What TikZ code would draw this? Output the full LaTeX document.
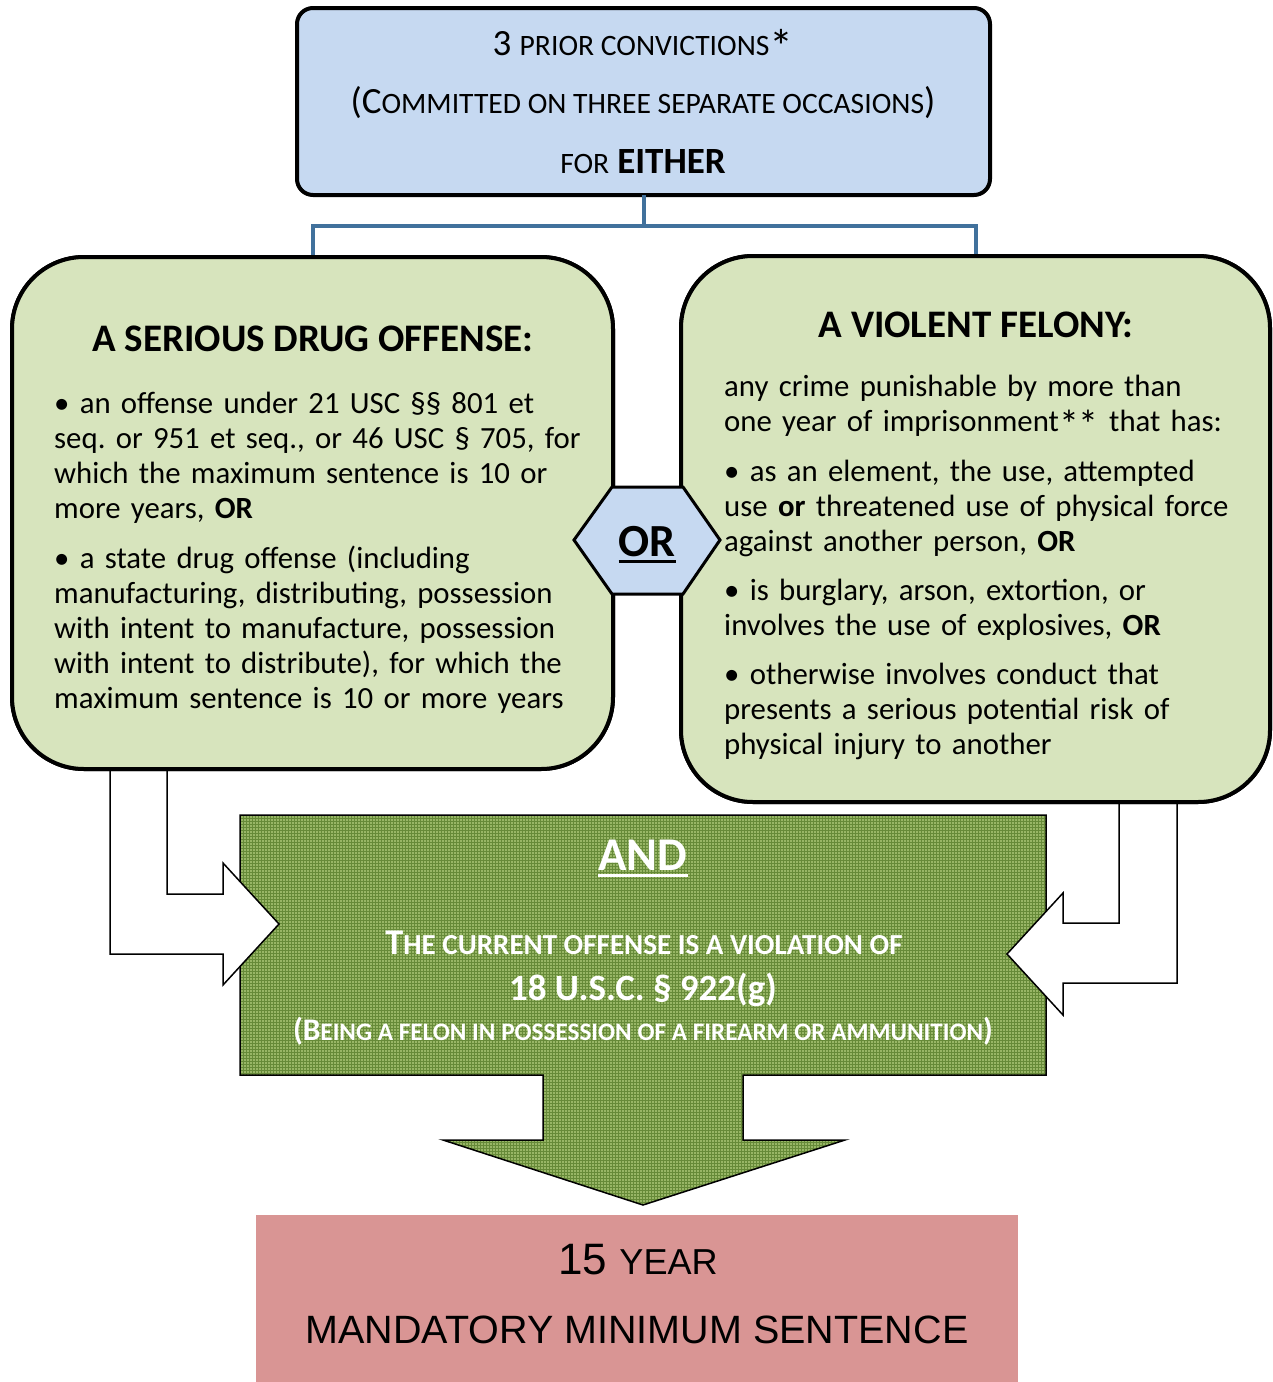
\documentclass[tikz,border=0pt]{standalone}
\usepackage{fontspec}
\setmainfont{Carlito}
\newfontfamily\resfont{Liberation Sans}
\usetikzlibrary{patterns}
\definecolor{priorblue}{HTML}{C6D9F1}
\definecolor{boxgreen}{HTML}{D7E4BD}
\definecolor{connblue}{HTML}{41719C}
\definecolor{olivefill}{HTML}{98B666}
\definecolor{olivegrid}{HTML}{668A38}
\definecolor{respink}{HTML}{D99594}
\newsavebox\ulbox
\newcommand\thul[2][8pt]{\sbox\ulbox{#2}\rlap{\rule[-#1]{\wd\ulbox}{3.5pt}}\usebox\ulbox}
\newcommand\smc[2][0.8]{\scalebox{#1}{#2}}
\newcommand\bigast{\raisebox{-0.24em}{\scalebox{1.3}{*}}}
\frenchspacing
\begin{document}
\begin{tikzpicture}[x=1pt,y=-1pt,
  priorbox/.style={draw=black, line width=4pt, fill=priorblue, rounded corners=16pt,
    minimum width=693pt, minimum height=187pt, inner sep=0pt, outer sep=0pt},
  greenbox/.style={draw=black, line width=4pt, fill=boxgreen, rounded corners=72pt,
    inner sep=0pt, outer sep=0pt},
  conn/.style={draw=connblue, line width=4pt},
  warrow/.style={draw=black, line width=1.5pt, fill=white, line join=miter},
  gshape/.style={draw=black, line width=1.5pt, preaction={fill=olivefill},
    pattern=grid, pattern color=olivegrid},
  hexshape/.style={draw=black, line width=3pt, fill=priorblue, line join=miter},
  toptext/.style={anchor=base, inner sep=0pt, font=\fontsize{37pt}{44pt}\selectfont},
  headtext/.style={anchor=base, inner sep=0pt, font=\bfseries\fontsize{39pt}{46pt}\selectfont},
  bodytext/.style={anchor=base west, inner sep=0pt, text width=560pt, align=left,
    font=\fontsize{30.8pt}{35pt}\selectfont},
  whitetext/.style={anchor=base, inner sep=0pt, text=white},
  restext/.style={anchor=base, inner sep=0pt}
]
\useasboundingbox (0,0) rectangle (1273,1382);

% central green block arrow
\filldraw[gshape] (240,815) -- (1046,815) -- (1046,1075) -- (743,1075) -- (743,1140)
  -- (845,1140) -- (643,1205) -- (443,1140) -- (543,1140) -- (543,1075) -- (240,1075) -- cycle;

% white bent arrows
\filldraw[warrow] (110,760) -- (110,954) -- (223,954) -- (223,985) -- (279,924)
  -- (223,863) -- (223,894) -- (167,894) -- (167,760);
\filldraw[warrow] (1119,790) -- (1119,923) -- (1063,923) -- (1063,893) -- (1007,954)
  -- (1063,1015) -- (1063,983) -- (1177,983) -- (1177,790);

% boxes
\node[priorbox] (prior) at (643.5,101.5) {};
\node[greenbox, minimum width=601pt, minimum height=512pt] (lbox) at (312.5,513) {};
\node[greenbox, minimum width=589pt, minimum height=546pt] (rbox) at (975.5,529) {};

% connectors
\draw[conn] (prior.south) -- ++(0,31) coordinate (fork);
\draw[conn, line join=miter] (lbox.north) |- (fork) -| (rbox.north);
\node[greenbox, minimum width=601pt, minimum height=512pt] (lboxtop) at (lbox.center) {};
\node[greenbox, minimum width=589pt, minimum height=546pt] (rboxtop) at (rbox.center) {};

% OR hexagon
\filldraw[hexshape] (574,540) -- (612,487) -- (683,487) -- (720,540) -- (683,594) -- (612,594) -- cycle;
\node[anchor=base, inner sep=0pt, font=\bfseries\fontsize{46pt}{50pt}\selectfont] (ornode) at (647,556) {\thul[7pt]{OR}};

% top texts
\node[toptext] (t1) at (643,55) {3 \smc{PRIOR CONVICTIONS}\bigast};
\node[toptext] (t2) at (643,113) {(C\smc{OMMITTED ON THREE SEPARATE OCCASIONS})};
\node[toptext] (t3) at (643,173) {\smc{FOR}\hspace{8pt}\textbf{EITHER}};

% left box texts
\node[headtext] (lhead) at (313,351) {A SERIOUS DRUG OFFENSE:};
\node[bodytext] (lbody) at (54,413) {%
• an offense under 21 USC §§ 801 et\\
seq. or 951 et seq., or 46 USC § 705, for\\
which the maximum sentence is 10 or\\
more years, \textbf{OR}\\[15pt]
• a state drug offense (including\\
manufacturing, distributing, possession\\
with intent to manufacture, possession\\
with intent to distribute), for which the\\
maximum sentence is 10 or more years};

% right box texts
\node[headtext] (rhead) at (976,337.5) {A VIOLENT FELONY:};
\node[bodytext] (rbody) at (724,396) {%
any crime punishable by more than\\
one year of imprisonment\bigast\bigast{} that has:\\[15pt]
• as an element, the use, attempted\\
use \textbf{or} threatened use of physical force\\
against another person, \textbf{OR}\\[14pt]
• is burglary, arson, extortion, or\\
involves the use of explosives, \textbf{OR}\\[14pt]
• otherwise involves conduct that\\
presents a serious potential risk of\\
physical injury to another};

% green block texts
\node[whitetext, font=\bfseries\fontsize{47pt}{50pt}\selectfont] (andnode) at (643,870) {\thul[7pt]{AND}};
\node[whitetext, font=\bfseries\fontsize{36.3pt}{40pt}\selectfont] (g1) at (644,954) {T\smc{HE CURRENT OFFENSE IS A VIOLATION OF}};
\node[whitetext, font=\bfseries\fontsize{37pt}{40pt}\selectfont] (g2) at (643,1000) {18 U.S.C. § 922(g)};
\node[whitetext, font=\bfseries\fontsize{31.5pt}{36pt}\selectfont] (g3) at (643,1040) {(B\smc{EING A FELON IN POSSESSION OF A FIREARM OR AMMUNITION})};

% result box
\node[fill=respink, minimum width=762pt, minimum height=175pt, inner sep=0pt, outer sep=0pt] (result) at (637,1302.5) {};
\node[restext, font=\resfont\fontsize{44pt}{48pt}\selectfont] (r1) at (638,1274) {15 \smc[0.82]{YEAR}};
\node[restext, font=\resfont\fontsize{39.5pt}{46pt}\selectfont] (r2) at (637,1343) {MANDATORY MINIMUM SENTENCE};
\end{tikzpicture}
\end{document}
